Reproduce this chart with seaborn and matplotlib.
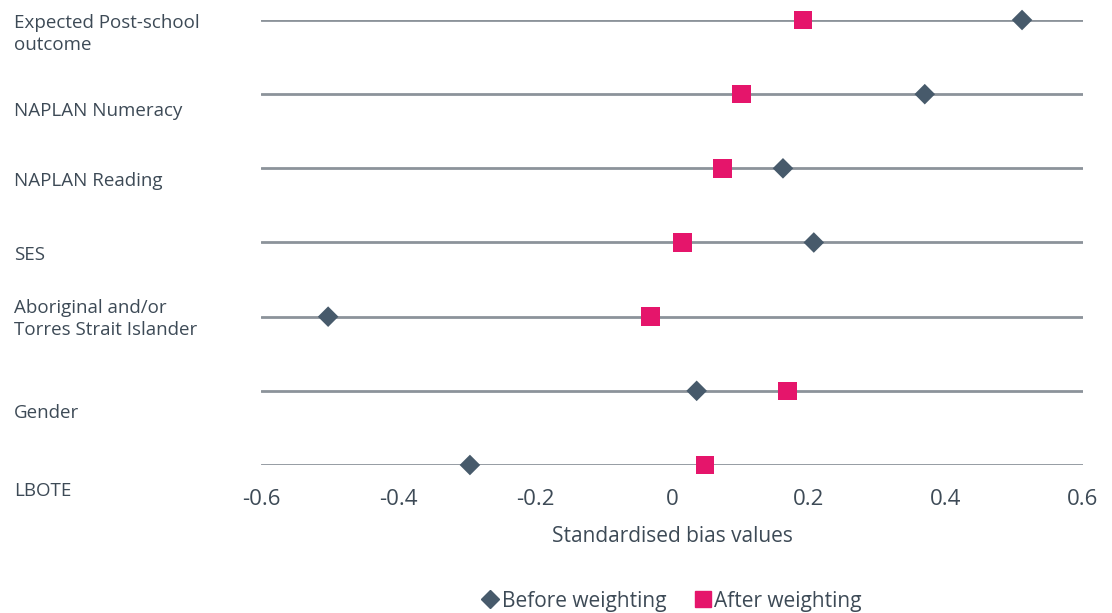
import pandas as pd
import matplotlib.pyplot as plt
import matplotlib.transforms as mtransforms
from matplotlib.lines import Line2D
import seaborn as sns

# ---------------- DATA ----------------

categories = [
    "Expected Post-school\noutcome",
    "NAPLAN Numeracy",
    "NAPLAN Reading",
    "SES",
    "Aboriginal and/or\nTorres Strait Islander",
    "Gender",
    "LBOTE",
]
before_weighting = [0.511, 0.369, 0.162, 0.207, -0.502, 0.036, -0.295]
after_weighting = [0.191, 0.101, 0.074, 0.015, -0.031, 0.169, 0.048]
x_ticks = [-0.6, -0.4, -0.2, 0, 0.2, 0.4, 0.6]
x_tick_labels = ["-0.6", "-0.4", "-0.2", "0", "0.2", "0.4", "0.6"]

series_names = ["Before weighting", "After weighting"]

df = pd.DataFrame({
    "row": list(range(len(categories))) * 2,
    "value": before_weighting + after_weighting,
    "series": [series_names[0]] * len(categories) + [series_names[1]] * len(categories),
})

# ---------------- STYLE ----------------

sns.set_style("white")
plt.rcParams["font.family"] = ["Open Sans", "DejaVu Sans"]

text_col = "#3d4a56"
line_col = "#8c939a"
colors = {"Before weighting": "#475a6b", "After weighting": "#e5156b"}
markers = {"Before weighting": "D", "After weighting": "s"}
sizes = {"Before weighting": 110, "After weighting": 180}

# how far (px) each category label sits below its row line
label_offsets_px = [14, 17, 13, 13, 2, 22, 26]

fig = plt.figure(figsize=(11.12, 6.13), dpi=100)
ax = fig.add_axes([261 / 1112, 1 - 465 / 613, 822 / 1112, 445 / 613])

# row lines
for i in range(len(categories)):
    ax.axhline(i, color=line_col, lw=2, zorder=1)

sns.scatterplot(
    data=df, x="value", y="row", hue="series", style="series", size="series",
    palette=colors, markers=markers, sizes=sizes, edgecolor="none",
    legend=False, ax=ax, zorder=3, clip_on=False,
)

ax.set_xlim(-0.6, 0.6)
ax.set_ylim(len(categories) - 1, 0)
ax.set_xticks(x_ticks)
ax.set_xticklabels(x_tick_labels, fontsize=16, color=text_col)
ax.tick_params(axis="x", direction="out", length=9, width=1.5, color=line_col, pad=8)
ax.set_yticks([])
ax.set_ylabel("")
ax.set_xlabel("Standardised bias values", fontsize=15, color=text_col, labelpad=12)

for side in ["top", "left", "right", "bottom"]:
    ax.spines[side].set_visible(False)

# category labels, left aligned, sitting below each row line
for i, cat in enumerate(categories):
    off = mtransforms.ScaledTranslation(0, -label_offsets_px[i] / 100, fig.dpi_scale_trans)
    label_tr = mtransforms.blended_transform_factory(fig.transFigure, ax.transData) + off
    ax.text(14 / 1112, i, cat, transform=label_tr, ha="left", va="center",
            fontsize=13.5, color=text_col, linespacing=1.3)

# legend
handles = [
    Line2D([], [], marker=markers[n], color=colors[n], linestyle="none",
           markersize=9 if n == series_names[0] else 11)
    for n in series_names
]
fig.legend(handles, series_names, loc="center", bbox_to_anchor=(668 / 1112, 1 - 601 / 613),
           ncol=2, frameon=False, fontsize=15, labelcolor=text_col,
           handletextpad=-0.2, columnspacing=1.0, handlelength=1.5)

plt.savefig("out.png", dpi=100)
plt.close()
